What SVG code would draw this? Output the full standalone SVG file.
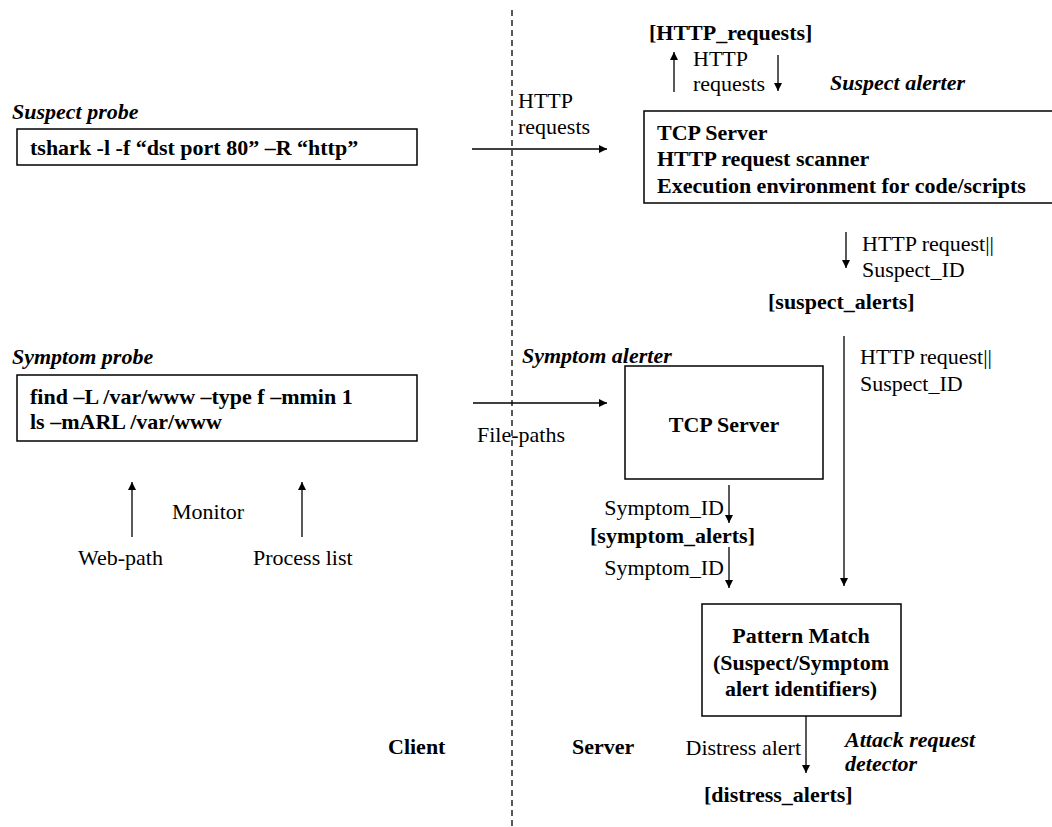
<svg xmlns="http://www.w3.org/2000/svg" width="1052" height="827" viewBox="0 0 1052 827">
  <style>
    text { font-family: "Liberation Serif", "Times New Roman", serif; font-size: 22px; fill: #000; }
    .b { font-weight: bold; }
    .bi { font-weight: bold; font-style: italic; }
    .box { fill: #fff; stroke: #000; stroke-width: 1.5; }
    .wire { stroke: #000; stroke-width: 1.3; fill: none; }
    .split { stroke: #000; stroke-width: 1.3; stroke-dasharray: 6 4; fill: none; }
    .mid { text-anchor: middle; }
    .end { text-anchor: end; }
  </style>
  <defs>
    <marker id="head" viewBox="0 0 10 10" refX="10" refY="5" markerWidth="8" markerHeight="8" markerUnits="userSpaceOnUse" orient="auto">
      <path d="M0,0 L10,5 L0,10 z" fill="#000"/>
    </marker>
  </defs>
  <rect width="1052" height="827" fill="#fff"/>

  <!-- client / server split -->
  <line class="split" x1="512" y1="10" x2="512" y2="827"/>
  <text class="b" x="388" y="754">Client</text>
  <text class="b" x="572" y="754">Server</text>

  <!-- connectors -->
  <g id="connectors">
    <line class="wire" x1="674" y1="92" x2="674" y2="52" marker-end="url(#head)"/>
    <line class="wire" x1="778" y1="55" x2="778" y2="91" marker-end="url(#head)"/>
    <line class="wire" x1="472" y1="149" x2="607" y2="149" marker-end="url(#head)"/>
    <line class="wire" x1="846" y1="232" x2="846" y2="268" marker-end="url(#head)"/>
    <line class="wire" x1="844" y1="336" x2="844" y2="586" marker-end="url(#head)"/>
    <line class="wire" x1="473" y1="403" x2="607" y2="403" marker-end="url(#head)"/>
    <line class="wire" x1="132" y1="537" x2="132" y2="482" marker-end="url(#head)"/>
    <line class="wire" x1="302" y1="537" x2="302" y2="482" marker-end="url(#head)"/>
    <line class="wire" x1="729" y1="485" x2="729" y2="523" marker-end="url(#head)"/>
    <line class="wire" x1="729" y1="547" x2="729" y2="588" marker-end="url(#head)"/>
    <line class="wire" x1="806" y1="716" x2="806" y2="773" marker-end="url(#head)"/>

    <text x="693" y="66">HTTP</text>
    <text x="693" y="91">requests</text>
    <text x="518" y="108">HTTP</text>
    <text x="518" y="134">requests</text>
    <text x="862" y="251">HTTP request||</text>
    <text x="862" y="277">Suspect_ID</text>
    <text x="860" y="364">HTTP request||</text>
    <text x="860" y="391">Suspect_ID</text>
    <text x="477" y="442">File-paths</text>
    <text x="172" y="519">Monitor</text>
    <text x="78" y="565">Web-path</text>
    <text x="253" y="565">Process list</text>
    <text class="end" x="724" y="515">Symptom_ID</text>
    <text class="end" x="724" y="575">Symptom_ID</text>
    <text class="end" x="801" y="755">Distress alert</text>
  </g>

  <!-- data stores -->
  <g id="store-http-requests"><text class="b" x="649" y="40">[HTTP_requests]</text></g>
  <g id="store-suspect-alerts"><text class="b" x="768" y="309">[suspect_alerts]</text></g>
  <g id="store-symptom-alerts"><text class="b" x="590" y="543">[symptom_alerts]</text></g>
  <g id="store-distress-alerts"><text class="b" x="704" y="802">[distress_alerts]</text></g>

  <!-- suspect probe -->
  <g id="suspect-probe">
    <text class="bi" x="12" y="119">Suspect probe</text>
    <rect class="box" x="17" y="129" width="400" height="36"/>
    <text class="b" x="30" y="155">tshark -l -f “dst port 80” –R “http”</text>
  </g>

  <!-- suspect alerter -->
  <g id="suspect-alerter">
    <text class="bi" x="830" y="90">Suspect alerter</text>
    <rect class="box" x="644" y="111" width="420" height="92"/>
    <text class="b" x="657" y="140">TCP Server</text>
    <text class="b" x="657" y="166">HTTP request scanner</text>
    <text class="b" x="657" y="193">Execution environment for code/scripts</text>
  </g>

  <!-- symptom probe -->
  <g id="symptom-probe">
    <text class="bi" x="12" y="364">Symptom probe</text>
    <rect class="box" x="17" y="375" width="400" height="66"/>
    <text class="b" x="30" y="404">find –L /var/www –type f –mmin 1</text>
    <text class="b" x="30" y="429">ls –mARL /var/www</text>
  </g>

  <!-- symptom alerter -->
  <g id="symptom-alerter">
    <text class="bi" x="522" y="363">Symptom alerter</text>
    <rect class="box" x="625" y="366" width="198" height="113"/>
    <text class="b mid" x="724" y="432">TCP Server</text>
  </g>

  <!-- pattern match -->
  <g id="pattern-match">
    <rect class="box" x="702" y="604" width="199" height="112"/>
    <text class="b mid" x="801" y="643">Pattern Match</text>
    <text class="b mid" x="801" y="670">(Suspect/Symptom</text>
    <text class="b mid" x="801" y="696">alert identifiers)</text>
  </g>

  <!-- attack request detector -->
  <g id="attack-request-detector">
    <text class="bi" x="845" y="747">Attack request</text>
    <text class="bi" x="845" y="771">detector</text>
  </g>
</svg>
